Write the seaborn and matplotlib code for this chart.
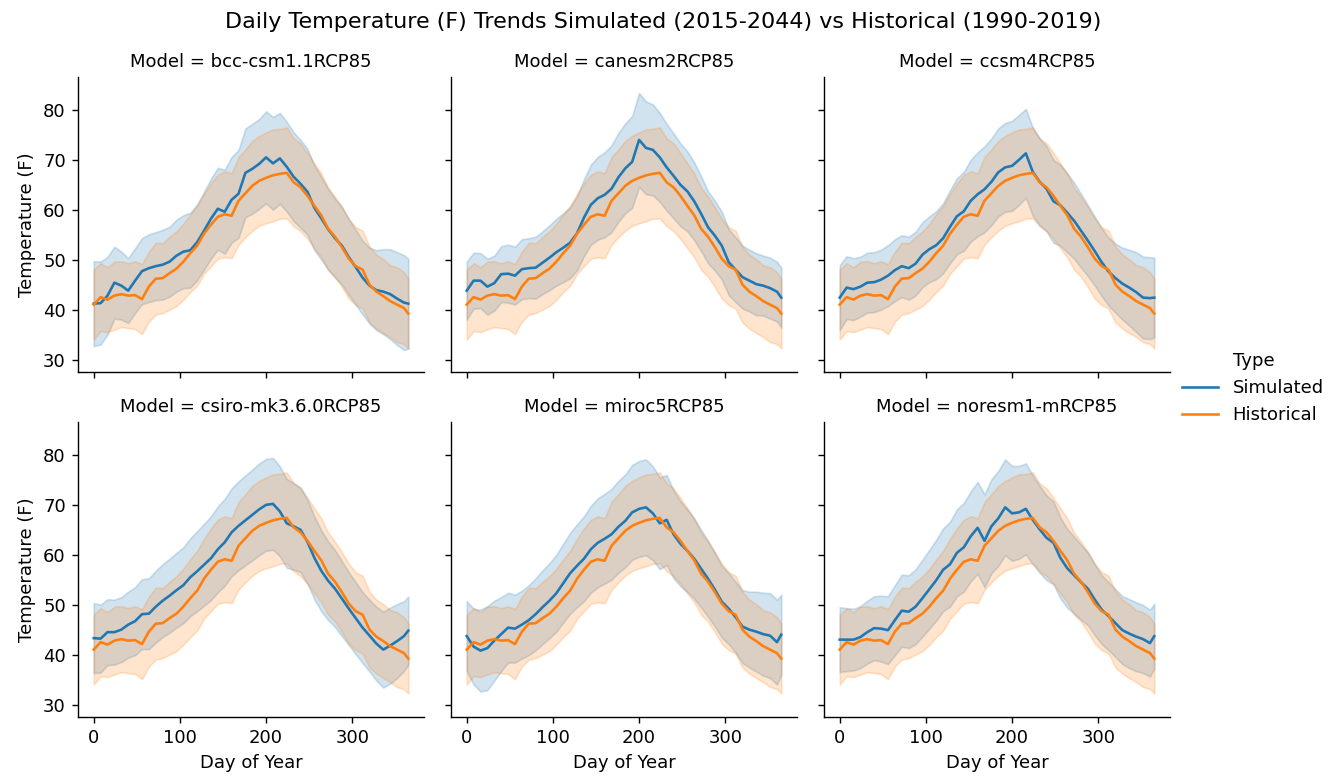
import matplotlib
matplotlib.use("Agg")
import matplotlib.pyplot as plt
from matplotlib.lines import Line2D
import pandas as pd
import seaborn as sns

# Day-of-year sample points
DAYS = [0, 8, 16, 24, 32, 40, 48, 56, 64, 72, 80, 88, 96, 104, 112, 120,
        128, 136, 144, 152, 160, 168, 176, 184, 192, 200, 208, 216, 224,
        232, 240, 248, 256, 264, 272, 280, 288, 296, 304, 312, 320, 328,
        336, 344, 352, 360, 365]

MODELS = ["bcc-csm1.1RCP85", "canesm2RCP85", "ccsm4RCP85",
          "csiro-mk3.6.0RCP85", "miroc5RCP85", "noresm1-mRCP85"]
TYPES = ["Simulated", "Historical"]

# Historical (1990-2019) daily mean temperature and its standard deviation
HIST_MEAN = [41.0, 42.5, 42.0, 42.8, 43.1, 42.8, 42.9, 42.1, 44.6, 46.2,
             46.3, 47.3, 48.2, 49.6, 51.3, 52.8, 55.2, 57.0, 58.6, 59.1,
             58.8, 61.8, 63.3, 64.8, 65.8, 66.4, 66.9, 67.2, 67.4, 65.5,
             64.5, 62.8, 60.8, 58.9, 56.2, 54.6, 52.5, 50.2, 48.7, 48.0,
             45.0, 43.6, 42.7, 41.7, 41.0, 40.3, 39.2]
HIST_SD = [7.0, 6.8, 6.5, 6.8, 6.6, 6.5, 6.8, 7.0, 7.0, 7.2,
           7.0, 7.3, 7.5, 7.6, 7.8, 8.0, 8.0, 8.3, 8.4, 8.6,
           8.5, 8.8, 8.8, 9.0, 9.0, 9.1, 9.2, 9.0, 9.1, 8.8,
           8.8, 8.6, 8.5, 8.4, 8.2, 8.0, 8.0, 8.0, 7.8, 7.8,
           7.6, 7.4, 7.4, 7.2, 7.5, 7.2, 7.0]

# Simulated (2015-2044) daily mean temperature per model
BCC_MEAN = [41.2, 41.3, 42.8, 45.4, 44.8, 43.8, 45.8, 47.7, 48.3, 48.7,
            49.0, 49.6, 50.8, 51.6, 51.9, 53.5, 55.8, 58.2, 60.2, 59.6,
            62.0, 63.2, 67.4, 68.2, 69.2, 70.5, 69.3, 70.3, 68.6, 66.6,
            65.2, 63.6, 60.4, 58.3, 56.1, 54.3, 52.8, 50.5, 48.5, 46.4,
            44.8, 43.9, 43.6, 43.1, 42.2, 41.4, 41.2]
CANESM2_MEAN = [43.8, 45.8, 45.8, 44.6, 45.3, 47.1, 47.2, 46.8, 48.1, 48.3,
                48.4, 49.4, 50.4, 51.5, 52.4, 53.4, 55.3, 58.4, 61.0, 62.3,
                63.0, 64.2, 66.5, 68.3, 69.6, 74.0, 72.4, 72.0, 70.5, 68.5,
                66.8, 65.0, 63.7, 61.7, 59.2, 56.5, 54.8, 52.8, 49.5, 48.0,
                46.5, 45.8, 45.1, 44.8, 44.3, 43.6, 42.4]
CCSM4_MEAN = [42.4, 44.4, 44.1, 44.6, 45.4, 45.5, 46.0, 46.8, 47.9, 48.7,
              48.3, 49.2, 51.0, 52.1, 52.9, 54.3, 56.6, 58.7, 59.7, 61.8,
              63.1, 64.1, 65.6, 67.5, 68.5, 68.8, 70.0, 71.3, 67.6, 65.6,
              64.2, 61.7, 60.9, 59.4, 57.8, 55.8, 53.8, 51.7, 49.5, 47.6,
              46.3, 45.2, 44.4, 43.5, 42.4, 42.3, 42.4]
CSIRO_MEAN = [43.3, 43.2, 44.5, 44.5, 45.0, 46.0, 46.7, 48.1, 48.2, 49.6,
              50.8, 51.8, 52.9, 53.9, 55.5, 56.7, 58.0, 59.3, 61.1, 62.5,
              64.5, 65.8, 66.9, 68.0, 69.1, 70.0, 70.2, 68.7, 66.3, 65.7,
              65.0, 62.6, 59.4, 56.8, 54.8, 53.2, 51.2, 49.2, 47.3, 45.4,
              43.8, 42.2, 41.0, 41.8, 42.7, 43.7, 44.8]
MIROC5_MEAN = [43.7, 41.6, 40.8, 41.3, 42.8, 44.1, 45.4, 45.2, 46.0, 46.9,
               48.1, 49.5, 50.8, 52.3, 54.3, 56.3, 57.8, 59.2, 61.1, 62.4,
               63.2, 64.1, 65.6, 66.8, 68.5, 69.2, 69.5, 68.3, 66.3, 67.0,
               64.1, 62.2, 60.8, 59.2, 57.2, 55.2, 53.0, 50.6, 49.2, 47.5,
               45.6, 45.0, 44.6, 44.1, 43.8, 42.5, 44.0]
NORESM_MEAN = [43.0, 43.0, 43.0, 43.5, 44.5, 45.3, 45.2, 44.9, 46.9, 48.8,
               48.6, 49.6, 51.3, 53.1, 54.9, 57.0, 58.1, 60.4, 61.5, 63.7,
               65.4, 62.8, 65.7, 67.3, 69.5, 68.3, 68.5, 69.2, 67.0, 65.1,
               63.4, 62.4, 59.4, 57.3, 55.9, 54.5, 53.2, 51.0, 49.0, 47.7,
               46.3, 44.9, 44.2, 43.6, 43.1, 42.3, 43.7]

# Simulated daily standard deviation per model
BCC_SD = [8.5, 8.3, 7.8, 7.2, 6.8, 6.5, 6.5, 6.6, 6.8, 6.8,
          7.0, 7.0, 7.2, 7.3, 7.5, 7.6, 7.8, 8.0, 8.2, 8.4,
          8.6, 8.8, 8.9, 9.0, 9.0, 9.2, 9.3, 9.1, 9.0, 8.9,
          8.8, 8.6, 8.5, 8.3, 8.1, 7.9, 7.8, 7.6, 7.5, 7.4,
          7.6, 8.0, 8.5, 9.0, 9.3, 9.5, 9.0]
CANESM2_SD = [5.8, 5.6, 5.5, 5.6, 5.5, 5.6, 5.8, 5.8, 6.0, 6.0,
              6.2, 6.3, 6.5, 6.7, 6.9, 7.1, 7.4, 7.7, 8.0, 8.3,
              8.5, 8.7, 8.9, 9.0, 9.2, 9.4, 9.3, 9.1, 8.9, 8.7,
              8.5, 8.3, 8.0, 7.8, 7.5, 7.2, 7.0, 6.8, 6.6, 6.5,
              6.3, 6.2, 6.2, 6.0, 6.1, 6.0, 6.0]
CCSM4_SD = [6.5, 6.3, 6.2, 6.0, 6.0, 6.0, 6.0, 6.1, 6.2, 6.2,
            6.3, 6.4, 6.5, 6.6, 6.8, 7.0, 7.3, 7.6, 7.9, 8.2,
            8.4, 8.6, 8.7, 8.8, 8.9, 9.0, 9.0, 8.9, 8.8, 8.7,
            8.5, 8.3, 8.1, 7.9, 7.6, 7.4, 7.1, 6.9, 6.8, 6.8,
            6.9, 7.2, 7.6, 8.0, 8.2, 8.2, 8.0]
CSIRO_SD = [7.0, 6.8, 6.6, 6.5, 6.5, 6.6, 6.8, 7.0, 7.1, 7.2,
            7.3, 7.4, 7.5, 7.6, 7.8, 8.0, 8.2, 8.4, 8.6, 8.7,
            8.8, 8.9, 9.0, 9.1, 9.2, 9.2, 9.2, 9.0, 8.9, 8.7,
            8.5, 8.4, 8.3, 8.1, 7.9, 7.7, 7.5, 7.3, 7.2, 7.1,
            7.2, 7.4, 7.6, 7.6, 7.4, 7.0, 6.8]
MIROC5_SD = [7.0, 7.6, 8.2, 8.4, 8.0, 7.4, 7.0, 6.8, 6.8, 7.0,
             7.2, 7.4, 7.5, 7.7, 7.9, 8.1, 8.3, 8.5, 8.7, 8.9,
             9.0, 9.1, 9.2, 9.3, 9.5, 9.6, 9.6, 9.4, 9.2, 9.0,
             8.8, 8.5, 8.3, 8.0, 7.8, 7.6, 7.4, 7.2, 7.1, 7.1,
             7.3, 7.6, 8.0, 8.3, 8.5, 8.5, 8.0]
NORESM_SD = [6.5, 6.3, 6.2, 6.2, 6.3, 6.4, 6.6, 6.8, 7.0, 7.2,
             7.3, 7.5, 7.7, 7.9, 8.1, 8.3, 8.5, 8.7, 8.9, 9.0,
             9.2, 9.3, 9.4, 9.5, 9.6, 9.5, 9.3, 9.1, 8.9, 8.7,
             8.5, 8.3, 8.1, 7.9, 7.7, 7.5, 7.3, 7.1, 6.9, 6.8,
             6.8, 6.8, 6.9, 6.9, 6.8, 6.7, 6.5]

SIM_SERIES = {
    "bcc-csm1.1RCP85": (BCC_MEAN, BCC_SD),
    "canesm2RCP85": (CANESM2_MEAN, CANESM2_SD),
    "ccsm4RCP85": (CCSM4_MEAN, CCSM4_SD),
    "csiro-mk3.6.0RCP85": (CSIRO_MEAN, CSIRO_SD),
    "miroc5RCP85": (MIROC5_MEAN, MIROC5_SD),
    "noresm1-mRCP85": (NORESM_MEAN, NORESM_SD),
}

TITLE = ("Daily Temperature (F) Trends Simulated (2015-2044) "
         "vs Historical (1990-2019)")

# Long table: for every day store mean-sd, mean, mean+sd so that the
# median gives the line and the min/max give the +/- 1 sd band.
rows = []
for model in MODELS:
    for kind, (mean, sd) in (("Simulated", SIM_SERIES[model]),
                             ("Historical", (HIST_MEAN, HIST_SD))):
        for day, m, s in zip(DAYS, mean, sd):
            for v in (m - s, m, m + s):
                rows.append({"Model": model, "Type": kind,
                             "Day of Year": day, "Temperature (F)": v})
df = pd.DataFrame(rows)

DPI = 125
W, H = 1340, 776

plt.rcParams["font.size"] = 10.4

g = sns.relplot(
    data=df, x="Day of Year", y="Temperature (F)",
    hue="Type", hue_order=TYPES,
    col="Model", col_order=MODELS, col_wrap=3,
    kind="line", estimator="median",
    errorbar=lambda v: (v.min(), v.max()),
    height=3, aspect=1.17, legend=False,
)

fig = g.figure
fig.set_size_inches(W / DPI, H / DPI)
fig.subplots_adjust(left=78 / W, right=1170 / W,
                    bottom=1 - 717 / H, top=1 - 77 / H,
                    wspace=0.078, hspace=0.1695)
g.set(xticks=[0, 100, 200, 300], yticks=[30, 40, 50, 60, 70, 80],
      ylim=(27.5, 86.6))

pal = sns.color_palette()
handles = [Line2D([], [], linestyle="none"),
           Line2D([], [], color=pal[0], lw=1.5),
           Line2D([], [], color=pal[1], lw=1.5)]
fig.legend(handles, ["Type"] + TYPES, loc="center right",
           frameon=False, bbox_to_anchor=(1.0, 0.5))

fig.suptitle(TITLE, x=0.495, y=1 - 22 / H, va="center", fontsize=12.8)

fig.savefig("out.png", dpi=DPI)
